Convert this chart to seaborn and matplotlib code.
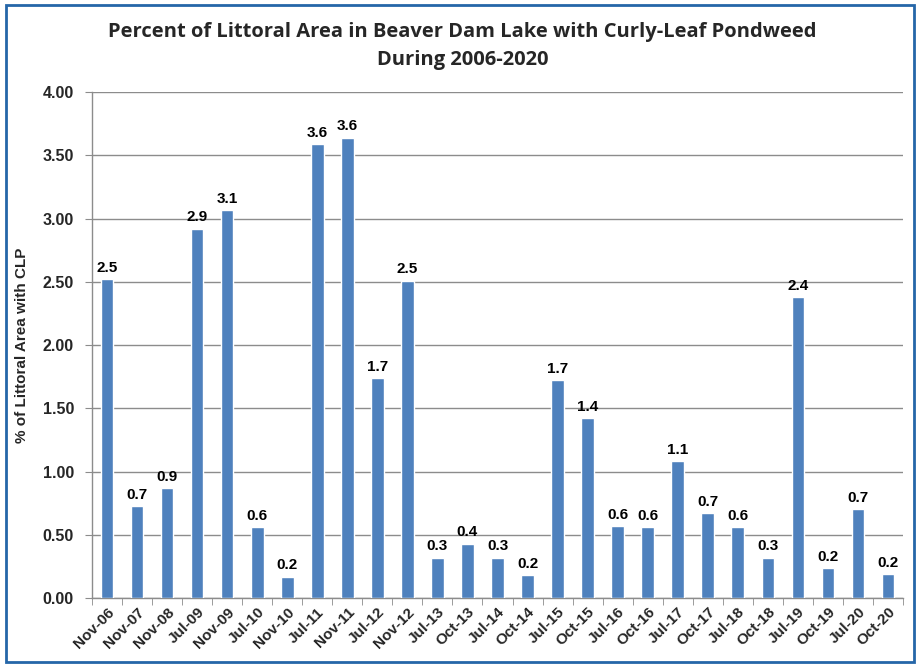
import matplotlib
matplotlib.use('Agg')
import matplotlib.pyplot as plt
import seaborn as sns
import pandas as pd
from matplotlib.patches import Rectangle

periodos = ['Nov-06', 'Nov-07', 'Nov-08', 'Jul-09', 'Nov-09', 'Jul-10', 'Nov-10',
            'Jul-11', 'Nov-11', 'Jul-12', 'Nov-12', 'Jul-13', 'Oct-13', 'Jul-14',
            'Oct-14', 'Jul-15', 'Oct-15', 'Jul-16', 'Oct-16', 'Jul-17', 'Oct-17',
            'Jul-18', 'Oct-18', 'Jul-19', 'Oct-19', 'Jul-20', 'Oct-20']
porcentaje = [2.52, 0.73, 0.87, 2.92, 3.07, 0.56, 0.17,
              3.59, 3.64, 1.74, 2.51, 0.32, 0.43, 0.32,
              0.18, 1.72, 1.42, 0.57, 0.56, 1.08, 0.67,
              0.56, 0.32, 2.38, 0.24, 0.70, 0.19]
yticks = [0.0, 0.5, 1.0, 1.5, 2.0, 2.5, 3.0, 3.5, 4.0]

sns.set_style('white')
plt.rcParams['font.family'] = ['Liberation Sans', 'DejaVu Sans']

df = pd.DataFrame({'Periodo': periodos, 'CLP': porcentaje})

fig = plt.figure(figsize=(9.19, 6.67), dpi=100)
ax = fig.add_axes([0.1001, 0.1034, 0.8825, 0.7586])

sns.barplot(x='Periodo', y='CLP', data=df, color='#4f81bd', width=0.42,
            saturation=1, ax=ax, zorder=3)
ax.bar_label(ax.containers[0], fmt='%.1f', padding=3, fontsize=11,
             fontweight='bold', color='black')

ax.set_ylim(0, 4)
ax.set_xlim(-0.5, len(periodos) - 0.5)
ax.set_yticks(yticks)
ax.set_yticklabels(['%.2f' % v for v in yticks], fontsize=11.5, fontweight='bold')
ax.yaxis.grid(True, color='#8c8c8c', linewidth=1, zorder=0)
ax.set_axisbelow(True)

# marcas del eje x entre categorias
ax.set_xticks([i + 0.5 for i in range(-1, len(periodos))], minor=True)
ax.tick_params(axis='x', which='minor', length=5, color='#8c8c8c', direction='out', bottom=True)
ax.tick_params(axis='x', which='major', length=0, pad=5)
ax.tick_params(axis='y', length=5, color='#8c8c8c', direction='out', left=True, pad=8)
plt.setp(ax.get_xticklabels(), rotation=45, ha='right', rotation_mode='anchor',
         fontsize=11, fontweight='bold')

for lado in ['top', 'right']:
    ax.spines[lado].set_visible(False)
for lado in ['left', 'bottom']:
    ax.spines[lado].set_color('#8c8c8c')
    ax.spines[lado].set_linewidth(1)

ax.set_xlabel('')
ax.set_ylabel('% of Littoral Area with CLP', fontsize=11, fontweight='bold', labelpad=10)

fig.text(0.503, 0.952, 'Percent of Littoral Area in Beaver Dam Lake with Curly-Leaf Pondweed',
         ha='center', va='center', fontsize=14.5, fontweight='bold', family=['Open Sans', 'DejaVu Sans'])
fig.text(0.503, 0.91, 'During 2006-2020', ha='center', va='center', fontsize=14.5,
         fontweight='bold', family=['Open Sans', 'DejaVu Sans'])

fig.patches.append(Rectangle((0.007, 0.007), 0.988, 0.986, transform=fig.transFigure,
                             fill=False, edgecolor='#2566a8', linewidth=2))

fig.savefig('out.png', dpi=100)
